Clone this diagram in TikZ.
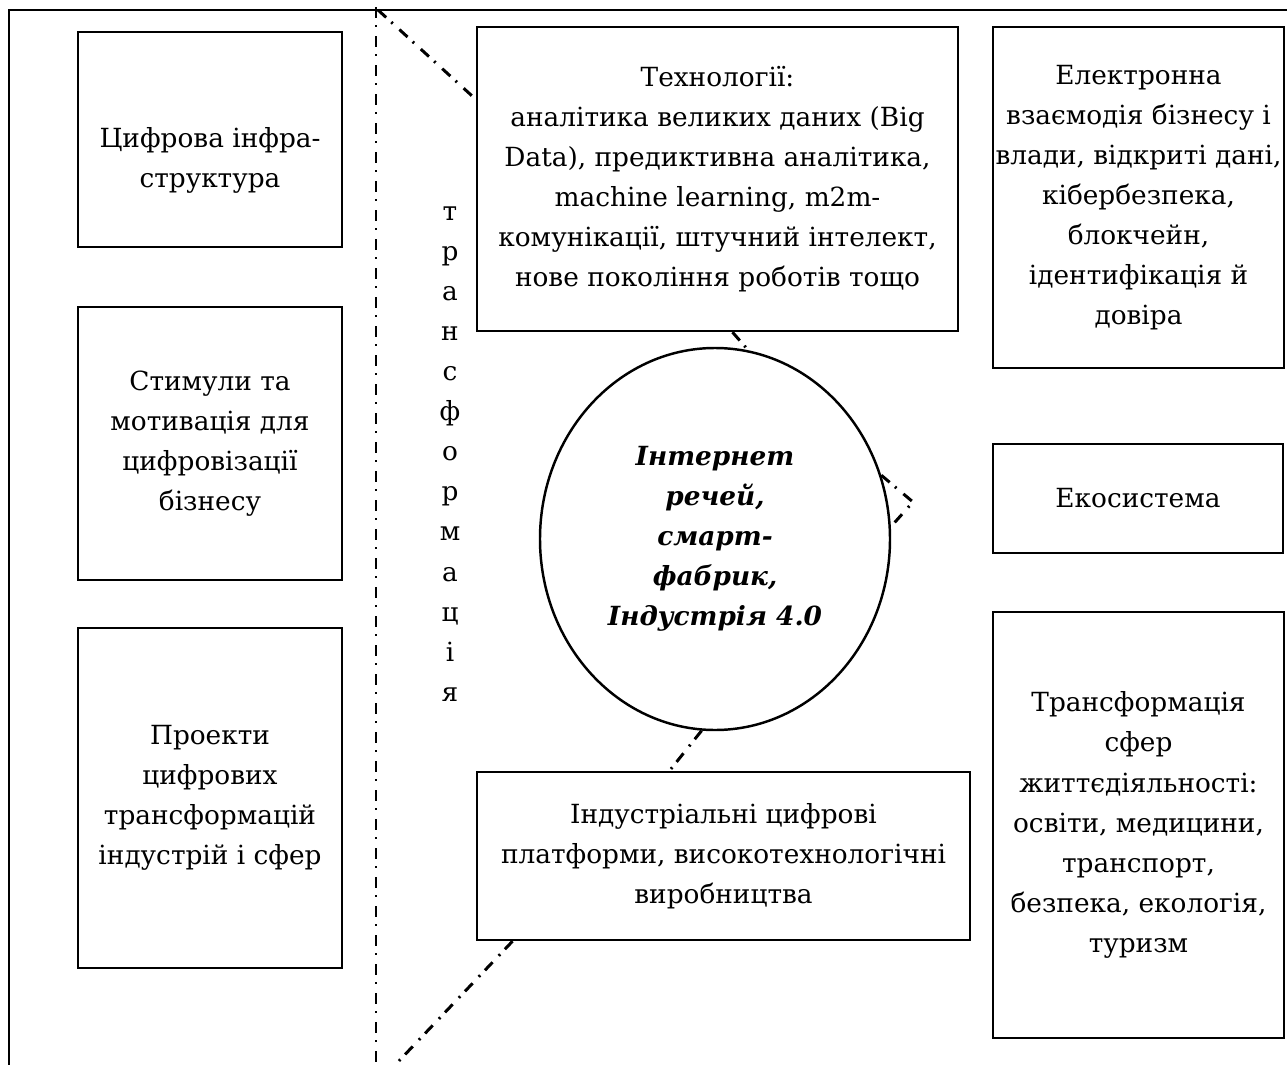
\documentclass[tikz,border=0pt]{standalone}
\usepackage{fontspec}
\setmainfont{DejaVu Serif}
\usepackage{tikz}
\usetikzlibrary{
  shapes.geometric,
  calc
}

\begin{document}
\begin{tikzpicture}[
  x=0.2mm,y=-0.2mm,
  every node/.style={font=\fontsize{15}{22.8}\selectfont},
  blockbox/.style={rectangle,draw,line width=1.4pt,align=center,inner xsep=1pt,inner ysep=4pt},
  plaintext/.style={align=center,inner sep=0pt},
  corenode/.style={ellipse,draw,line width=1.4pt,align=center,inner sep=2pt,minimum width=70mm,minimum height=76.4mm,font=\fontsize{15}{22.8}\selectfont\bfseries\itshape},
  frameline/.style={line width=1.3pt},
  linkline/.style={line width=1.7pt,dash pattern=on 2.2mm off 1.4mm on 0.4mm off 1.8mm},
]
\useasboundingbox (0,0) rectangle (1287,1065);

% outer frame
\coordinate (frametop) at (9,10);
\coordinate (frameright) at (1287,10);
\coordinate (framebottom) at (9,1065);
\draw[frameline] (framebottom) -- (frametop) -- (frameright);

% left column
\node[blockbox,minimum width=52.8mm,minimum height=43mm] (infra) at (210,139.5) {};
\node[plaintext] (infratext) at (210,160) {Цифрова інфра-\\структура};
\node[blockbox,minimum width=52.8mm,minimum height=54.6mm] (stimuli) at (210,443.5) {Стимули та\\мотивація для\\цифровізації\\бізнесу};
\node[blockbox,minimum width=52.8mm,minimum height=68mm] (projects) at (210,798) {Проекти\\цифрових\\трансформацій\\індустрій і сфер};

% vertical word
\node[plaintext] (vword) at (450,454) {т\\р\\а\\н\\с\\ф\\о\\р\\м\\а\\ц\\і\\я};

% middle column
\node[blockbox,minimum width=96.2mm,minimum height=60.8mm] (tech) at (717.5,179) {Технології:\\аналітика великих даних (Big\\Data), предиктивна аналітика,\\machine learning, m2m-\\комунікації, штучний інтелект,\\нове покоління роботів тощо};
\node[corenode] (iot) at (715,539) {Інтернет\\речей,\\смарт-\\фабрик,\\Індустрія 4.0};
\node[blockbox,minimum width=98.6mm,minimum height=33.6mm] (indust) at (723.5,856) {Індустріальні цифрові\\платформи, високотехнологічні\\виробництва};

% right column
\node[blockbox,minimum width=58.2mm,minimum height=68.2mm] (egov) at (1138.5,197.5) {Електронна\\взаємодія бізнесу і\\влади, відкриті дані,\\кібербезпека,\\блокчейн,\\ідентифікація й\\довіра};
\node[blockbox,minimum width=58mm,minimum height=21.8mm] (eco) at (1138,498.5) {Екосистема};
\node[blockbox,minimum width=58.2mm,minimum height=85.2mm] (spheres) at (1138.5,825) {Трансформація\\сфер\\життєдіяльності:\\освіти, медицини,\\транспорт,\\безпека, екологія,\\туризм};

% dash-dot links
\coordinate (splittop) at (376,7);
\coordinate (splitbottom) at (376,1065);
\coordinate (apex) at (378,10);
\coordinate (kink) at (913,502);
\coordinate (foot) at (397,1063);
\draw[linkline] (splittop) -- (splitbottom);
\draw[linkline] (apex) -- ($(tech.north west)!0.24!(tech.south west)$);
\draw[linkline] ($(tech.south)+(15,0)$) -- (iot.80);
\draw[linkline] (iot.21) -- (kink) -- (iot.4);
\draw[linkline] (iot.266) -- ($(indust.north)+(-54,0)$);
\draw[linkline] ($(indust.south)+(-211,0)$) -- (foot);
\end{tikzpicture}
\end{document}
